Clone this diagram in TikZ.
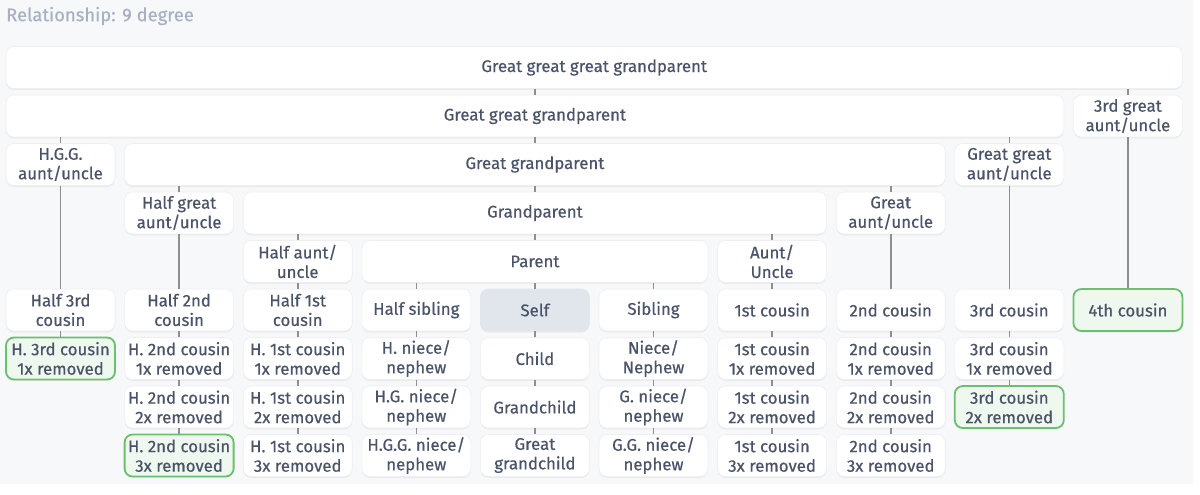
\documentclass[tikz,border=0pt]{standalone}
\usepackage{fontspec}
\setmainfont{Fira Sans}[FakeBold=0.5]
\usetikzlibrary{shadows}
\definecolor{bgc}{HTML}{F7F8FA}
\definecolor{txt}{HTML}{4A5368}
\definecolor{ttl}{HTML}{A9B0C2}
\definecolor{edgec}{HTML}{8F8F8F}
\definecolor{grn}{HTML}{6CBF6C}
\definecolor{grnfill}{HTML}{EEF8EE}
\definecolor{selff}{HTML}{E1E5EC}
\definecolor{bord}{HTML}{EDEFF3}
\tikzset{
  box/.style={rounded corners=8pt, fill=white, draw=bord, line width=0.6pt,
    minimum width=109pt, minimum height=42pt, align=center, text=txt,
    font=\fontsize{16.8}{19.5}\selectfont, inner sep=0pt,
    drop shadow={shadow xshift=0pt, shadow yshift=-1.5pt, opacity=0.05, fill=black}},
  hl/.style={box, fill=grnfill, draw=grn, line width=1.8pt},
  me/.style={box, fill=selff, draw=selff},
  link/.style={draw=edgec, line width=1.6pt},
}
\begin{document}
\begin{tikzpicture}[x=1pt,y=-1pt]
\useasboundingbox (0,0) rectangle (1200,495);
\fill[white] (0,0) rectangle (1200,495);
\fill[bgc] (0,0) rectangle (1193,484);
\node[anchor=west, text=ttl, font=\fontsize{18.4}{21}\selectfont, inner sep=0pt] (title) at (6,16) {Relationship: 9 degree};
% row 0-4
\node[box, minimum width=1176.4pt] (g3p) at (594.2,67.5) {Great great great grandparent};
\node[box, minimum width=1057.8pt] (g2p) at (534.9,116) {Great great grandparent};
\node[box] (g3au) at (1127.9,116) {3rd great\\aunt/uncle};
\node[box] (hgg) at (60.5,164.5) {H.G.G.\\aunt/uncle};
\node[box, minimum width=820.6pt] (ggp) at (534.9,164.5) {Great grandparent};
\node[box] (g2au) at (1009.3,164.5) {Great great\\aunt/uncle};
\node[box] (hgau) at (179.1,213) {Half great\\aunt/uncle};
\node[box, minimum width=583.4pt] (gp) at (534.9,213) {Grandparent};
\node[box] (gau) at (890.7,213) {Great\\aunt/uncle};
\node[box] (hau) at (297.7,261.5) {Half aunt/\\uncle};
\node[box, minimum width=346.2pt] (par) at (534.9,261.5) {Parent};
\node[box] (au) at (772.1,261.5) {Aunt/\\Uncle};
% row 5
\node[box] (h3c) at (60.5,310) {Half 3rd\\cousin};
\node[box] (h2c) at (179.1,310) {Half 2nd\\cousin};
\node[box] (h1c) at (297.7,310) {Half 1st\\cousin};
\node[box] (hsib) at (416.3,310) {Half sibling};
\node[me] (self) at (534.9,310) {Self};
\node[box] (sib) at (653.5,310) {Sibling};
\node[box] (c1) at (772.1,310) {1st cousin};
\node[box] (c2) at (890.7,310) {2nd cousin};
\node[box] (c3) at (1009.3,310) {3rd cousin};
\node[hl] (c4) at (1127.9,310) {4th cousin};
% row 6
\node[hl] (h3c1) at (60.5,358.5) {H. 3rd cousin\\1x removed};
\node[box] (h2c1) at (179.1,358.5) {H. 2nd cousin\\1x removed};
\node[box] (h1c1) at (297.7,358.5) {H. 1st cousin\\1x removed};
\node[box] (hn1) at (416.3,358.5) {H. niece/\\nephew};
\node[box] (ch1) at (534.9,358.5) {Child};
\node[box] (n1) at (653.5,358.5) {Niece/\\Nephew};
\node[box] (c1r1) at (772.1,358.5) {1st cousin\\1x removed};
\node[box] (c2r1) at (890.7,358.5) {2nd cousin\\1x removed};
\node[box] (c3r1) at (1009.3,358.5) {3rd cousin\\1x removed};
% row 7
\node[box] (h2c2) at (179.1,407) {H. 2nd cousin\\2x removed};
\node[box] (h1c2) at (297.7,407) {H. 1st cousin\\2x removed};
\node[box] (hn2) at (416.3,407) {H.G. niece/\\nephew};
\node[box] (ch2) at (534.9,407) {Grandchild};
\node[box] (n2) at (653.5,407) {G. niece/\\nephew};
\node[box] (c1r2) at (772.1,407) {1st cousin\\2x removed};
\node[box] (c2r2) at (890.7,407) {2nd cousin\\2x removed};
\node[hl] (c3r2) at (1009.3,407) {3rd cousin\\2x removed};
% row 8
\node[hl] (h2c3) at (179.1,455.5) {H. 2nd cousin\\3x removed};
\node[box] (h1c3) at (297.7,455.5) {H. 1st cousin\\3x removed};
\node[box] (hn3) at (416.3,455.5) {H.G.G. niece/\\nephew};
\node[box] (ch3) at (534.9,455.5) {Great\\grandchild};
\node[box] (n3) at (653.5,455.5) {G.G. niece/\\nephew};
\node[box] (c1r3) at (772.1,455.5) {1st cousin\\3x removed};
\node[box] (c2r3) at (890.7,455.5) {2nd cousin\\3x removed};
% connectors
\foreach \p/\c in {g3p/g2p, g3p/g3au, g2p/hgg, g2p/ggp, g2p/g2au,
  ggp/hgau, ggp/gp, ggp/gau, gp/hau, gp/par, gp/au,
  par/hsib, par/self, par/sib, hau/h1c, au/c1,
  hgg/h3c, hgau/h2c, gau/c2, g2au/c3, g3au/c4,
  h3c/h3c1,
  h2c/h2c1, h2c1/h2c2, h2c2/h2c3,
  h1c/h1c1, h1c1/h1c2, h1c2/h1c3,
  hsib/hn1, hn1/hn2, hn2/hn3,
  self/ch1, ch1/ch2, ch2/ch3,
  sib/n1, n1/n2, n2/n3,
  c1/c1r1, c1r1/c1r2, c1r2/c1r3,
  c2/c2r1, c2r1/c2r2, c2r2/c2r3,
  c3/c3r1, c3r1/c3r2}
  \draw[link] (\c.north |- \p.south) -- (\c.north);
\end{tikzpicture}
\end{document}
